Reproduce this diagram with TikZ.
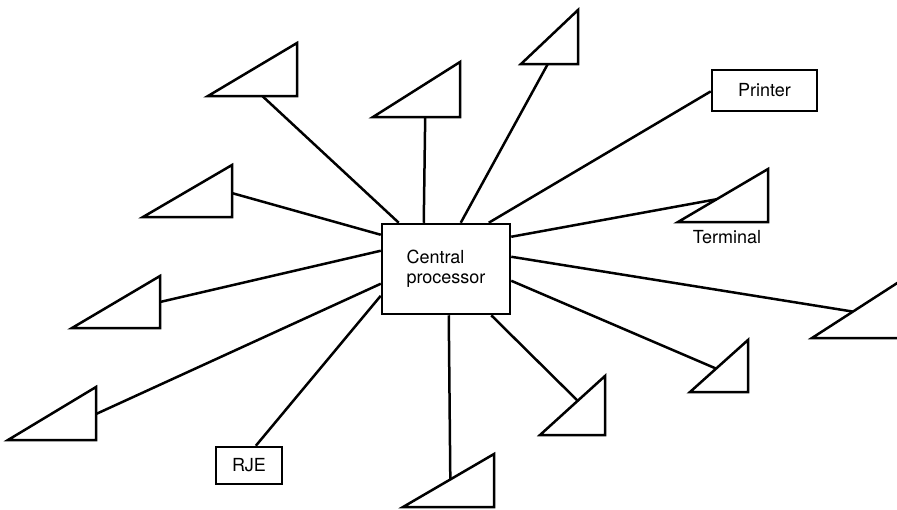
\documentclass[tikz,border=0pt]{standalone}
\usepackage{fontspec}
\setmainfont{TeX Gyre Heros}
\usetikzlibrary{calc}

% triangle terminal: name, bottom right corner, width, height
\newcommand{\terminal}[4]{%
  \coordinate (#1) at (#2);
  \coordinate (#1-bl) at ($(#1)+(-#3,0)$);
  \coordinate (#1-tr) at ($(#1)+(0,-#4)$);
  \draw [wire] (#1) -- (#1-bl) -- (#1-tr) -- cycle;}

\begin{document}
\begin{tikzpicture}[x=1pt,y=-1pt,
  wire/.style={black,line width=2.5pt,line join=miter},
  unitbox/.style={draw=black,line width=2.5pt,inner sep=0pt},
  every node/.style={font=\fontsize{18}{20}\selectfont}]
  \useasboundingbox (0,0) rectangle (897,509);
  \clip (0,0) rectangle (897,509);
  \node [unitbox,minimum width=128pt,minimum height=90pt,align=left] (cp) at (446,269) {Central\\processor};
  \node [unitbox,minimum width=105pt,minimum height=41pt] (printer) at (764.5,90.5) {Printer};
  \node [unitbox,minimum width=66pt,minimum height=37pt] (rje) at (249,465.5) {RJE};
  \terminal{t1}{297,96}{89}{53}
  \terminal{t2}{460,117}{87}{55}
  \terminal{t3}{578,64}{57}{54}
  \terminal{t5}{768,222}{90}{53}
  \terminal{t6}{905,338}{93}{60}
  \terminal{t7}{748,392}{58}{52}
  \terminal{t8}{605,435}{65}{59}
  \terminal{t9}{494,507}{91}{53}
  \terminal{t11}{96,440}{88}{53}
  \terminal{t12}{160,328}{88}{52}
  \terminal{t13}{232,217}{89}{52}
  \node [anchor=base] (term) at (727,243) {Terminal};
  % connectors to the central processor
  \draw [wire] ($(t1-bl)!0.61!(t1)$) -- ($(cp.north west)+(18,0)$);
  \draw [wire] ($(t2-bl)!0.6!(t2)$) -- ($(cp.north west)+(43,0)$);
  \draw [wire] ($(t3-bl)!0.47!(t3)$) -- ($(cp.north west)+(80,0)$);
  \draw [wire] ($(printer.north west)!0.52!(printer.south west)$) -- ($(cp.north west)+(108,0)$);
  \draw [wire] ($(t5-bl)!0.43!(t5-tr)$) -- ($(cp.north east)+(0,14)$);
  \draw [wire] ($(t6-bl)!0.44!(t6-tr)$) -- ($(cp.north east)+(0,34)$);
  \draw [wire] ($(t7-bl)!0.45!(t7-tr)$) -- ($(cp.north east)+(0,58)$);
  \draw [wire] ($(t8-bl)!0.58!(t8-tr)$) -- ($(cp.south east)+(-20,0)$);
  \draw [wire] ($(t9-bl)!0.52!(t9-tr)$) -- ($(cp.south west)+(68,0)$);
  \draw [wire] ($(rje.north west)!0.6!(rje.north east)$) -- ($(cp.north west)+(0,73)$);
  \draw [wire] ($(t11)!0.49!(t11-tr)$) -- ($(cp.north west)+(0,61)$);
  \draw [wire] ($(t12)!0.5!(t12-tr)$) -- ($(cp.north west)+(0,28)$);
  \draw [wire] ($(t13)!0.46!(t13-tr)$) -- ($(cp.north west)+(0,12)$);
\end{tikzpicture}
\end{document}
